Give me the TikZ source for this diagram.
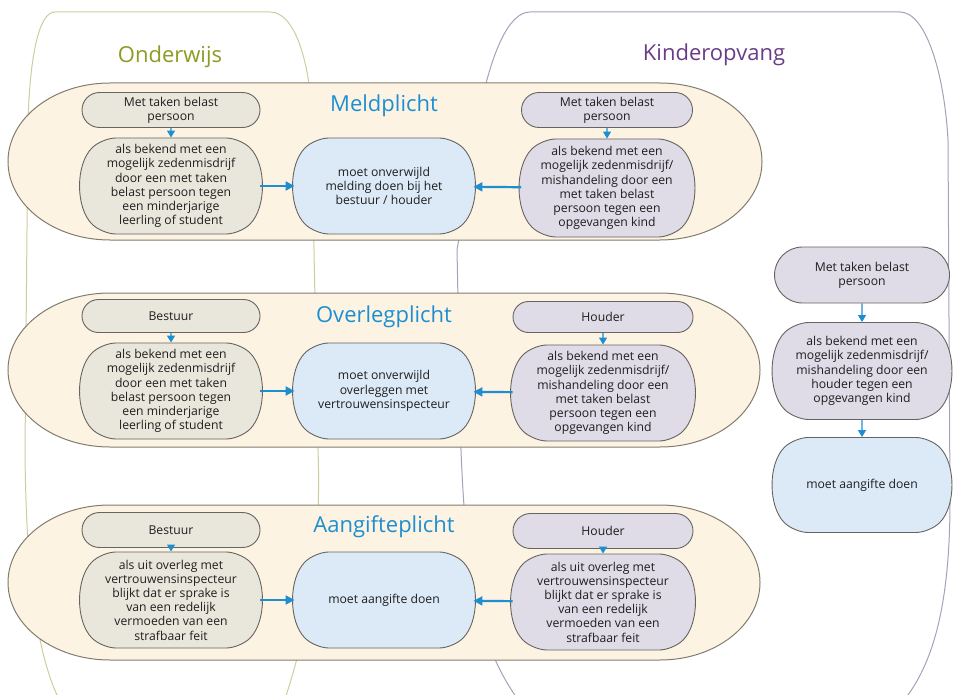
\documentclass[tikz,border=0pt]{standalone}
\usepackage{fontspec}
\setmainfont{Open Sans}
\usepackage{tikz}
\usetikzlibrary{shapes.misc, arrows.meta}

\definecolor{bandfill}{HTML}{FDF3E2}
\definecolor{bandline}{HTML}{827C6E}
\definecolor{ondline}{HTML}{CFCCA0}
\definecolor{kinline}{HTML}{A8A0B8}
\definecolor{ondtext}{HTML}{8E9A21}
\definecolor{kintext}{HTML}{6A3C87}
\definecolor{plichtblue}{HTML}{1D8FD1}
\definecolor{leftfill}{HTML}{E9E7DC}
\definecolor{rightfill}{HTML}{DFDBE7}
\definecolor{midfill}{HTML}{DCEAF7}
\definecolor{boxline}{HTML}{666460}

\tikzset{
  box/.style={rounded rectangle, draw=boxline, line width=0.9pt, align=center,
    inner sep=0pt, text=black!88, font=\fontsize{12.2}{14.2}\selectfont},
  headbox/.style={box, rounded rectangle arc length=180, minimum height=35pt},
  bigbox/.style={box, rounded rectangle arc length=90, rounded corners=14pt, minimum height=96pt},
  band/.style={draw=bandline, fill=bandfill, line width=1pt},
  plicht/.style={text=plichtblue, font=\fontsize{22}{26}\selectfont},
  arr/.style={draw=plichtblue, line width=2.2pt, -{Triangle[length=9pt,width=9pt]}},
  downarr/.style={draw=plichtblue, line width=1.4pt, -{Triangle[length=7pt,width=8pt]}}
}

\begin{document}
\begin{tikzpicture}[x=1pt, y=-1pt]
    \useasboundingbox (0,0) rectangle (960,695);
    \clip (0,0) rectangle (960,695);

    % Onderwijs outline
    \draw[ondline, line width=1pt] (55,12) -- (270,12)
        .. controls (292,12) and (306,50) .. (311,100) -- (318,450)
        .. controls (322,560) and (305,640) .. (283,705);
    \draw[ondline, line width=1pt] (55,12)
        .. controls (38,12) and (30,60) .. (28,120) -- (25,450)
        .. controls (26,590) and (40,665) .. (62,705);
    \node[text=ondtext, font=\fontsize{22}{26}\selectfont] (onderwijs) at (170,57) {Onderwijs};

    % Kinderopvang outline
    \draw[kinline, line width=1pt] (530,12) -- (900,12)
        .. controls (925,12) and (944,70) .. (948,140) -- (950,500)
        .. controls (950,600) and (935,665) .. (900,705);
    \draw[kinline, line width=1pt] (530,12)
        .. controls (508,12) and (492,55) .. (482,100) -- (457,250) -- (461,450)
        .. controls (466,580) and (480,650) .. (522,705);
    \node[text=kintext, font=\fontsize{22}{26}\selectfont] (kinderopvang) at (714,55) {Kinderopvang};

    % Bands
    \draw[band] (110,83) -- (660,83) arc[start angle=-90, end angle=90, x radius=102, y radius=78.5]
        -- (110,240) arc[start angle=90, end angle=270, x radius=102, y radius=78.5] -- cycle;
    \draw[band] (110,293) -- (660,293) arc[start angle=-90, end angle=90, x radius=100, y radius=77]
        -- (110,447) arc[start angle=90, end angle=270, x radius=102, y radius=77] -- cycle;
    \draw[band] (110,505) -- (660,505) arc[start angle=-90, end angle=90, x radius=100, y radius=77.5]
        -- (110,660) arc[start angle=90, end angle=270, x radius=102, y radius=77.5] -- cycle;

    % Meldplicht
    \node[plicht] (meld) at (384,106) {Meldplicht};
    \node[headbox, fill=leftfill, minimum width=178pt] (hL1) at (171,110) {Met taken belast\\persoon};
    \node[bigbox, fill=leftfill, minimum width=178pt] (bL1) at (171,186) {als bekend met een\\mogelijk zedenmisdrijf\\door een met taken\\belast persoon tegen\\een minderjarige\\leerling of student};
    \node[bigbox, fill=midfill, minimum width=178pt] (mid1) at (384,186) {moet onverwijld\\melding doen bij het\\bestuur / houder};
    \node[headbox, fill=rightfill, minimum width=171pt] (hR1) at (607,110) {Met taken belast\\persoon};
    \node[bigbox, fill=rightfill, minimum width=171pt, minimum height=98pt] (bR1) at (607,188) {als bekend met een\\mogelijk zedenmisdrijf/\\mishandeling door een\\met taken belast\\persoon tegen een\\opgevangen kind};
    \draw[downarr] (hL1) -- (bL1);
    \draw[downarr] (hR1) -- (bR1);
    \draw[arr] (bL1) -- (mid1);
    \draw[arr] (bR1) -- (mid1);

    % Overlegplicht
    \node[plicht] (overleg) at (384,317) {Overlegplicht};
    \node[headbox, fill=leftfill, minimum width=178pt, minimum height=33pt] (hL2) at (171,316) {Bestuur};
    \node[bigbox, fill=leftfill, minimum width=178pt] (bL2) at (171,391) {als bekend met een\\mogelijk zedenmisdrijf\\door een met taken\\belast persoon tegen\\een minderjarige\\leerling of student};
    \node[bigbox, fill=midfill, minimum width=178pt] (mid2) at (384,391) {moet onverwijld\\overleggen met\\vertrouwensinspecteur};
    \node[headbox, fill=rightfill, minimum width=180pt, minimum height=31pt] (hR2) at (603,317) {Houder};
    \node[bigbox, fill=rightfill, minimum width=180pt] (bR2) at (603,393) {als bekend met een\\mogelijk zedenmisdrijf/\\mishandeling door een\\met taken belast\\persoon tegen een\\opgevangen kind};
    \draw[downarr] (hL2) -- (bL2);
    \draw[downarr] (hR2) -- (bR2);
    \draw[arr] (bL2) -- (mid2);
    \draw[arr] (bR2) -- (mid2);

    % Aangifteplicht
    \node[plicht] (aangifte) at (384,527) {Aangifteplicht};
    \node[headbox, fill=leftfill, minimum width=178pt] (hL3) at (171,530) {Bestuur};
    \node[bigbox, fill=leftfill, minimum width=178pt] (bL3) at (171,600) {als uit overleg met\\vertrouwensinspecteur\\blijkt dat er sprake is\\van een redelijk\\vermoeden van een\\strafbaar feit};
    \node[bigbox, fill=midfill, minimum width=178pt] (mid3) at (384,600) {moet aangifte doen};
    \node[headbox, fill=rightfill, minimum width=180pt] (hR3) at (603,531) {Houder};
    \node[bigbox, fill=rightfill, minimum width=180pt] (bR3) at (603,602) {als uit overleg met\\vertrouwensinspecteur\\blijkt dat er sprake is\\van een redelijk\\vermoeden van een\\strafbaar feit};
    \draw[downarr] (hL3) -- (bL3);
    \draw[downarr] (hR3) -- (bR3);
    \draw[arr] (bL3) -- (mid3);
    \draw[arr] (bR3) -- (mid3);

    % Houder column
    \node[headbox, fill=rightfill, minimum width=175pt, minimum height=56pt] (hK) at (862,275) {Met taken belast\\persoon};
    \node[bigbox, fill=rightfill, minimum width=175pt, minimum height=97pt] (bK) at (862,371) {als bekend met een\\mogelijk zedenmisdrijf/\\mishandeling door een\\houder tegen een\\opgevangen kind};
    \node[bigbox, fill=midfill, minimum width=175pt, minimum height=95pt] (midK) at (862,485) {moet aangifte doen};
    \draw[downarr] (hK) -- (bK);
    \draw[downarr] (bK) -- (midK);
\end{tikzpicture}
\end{document}
